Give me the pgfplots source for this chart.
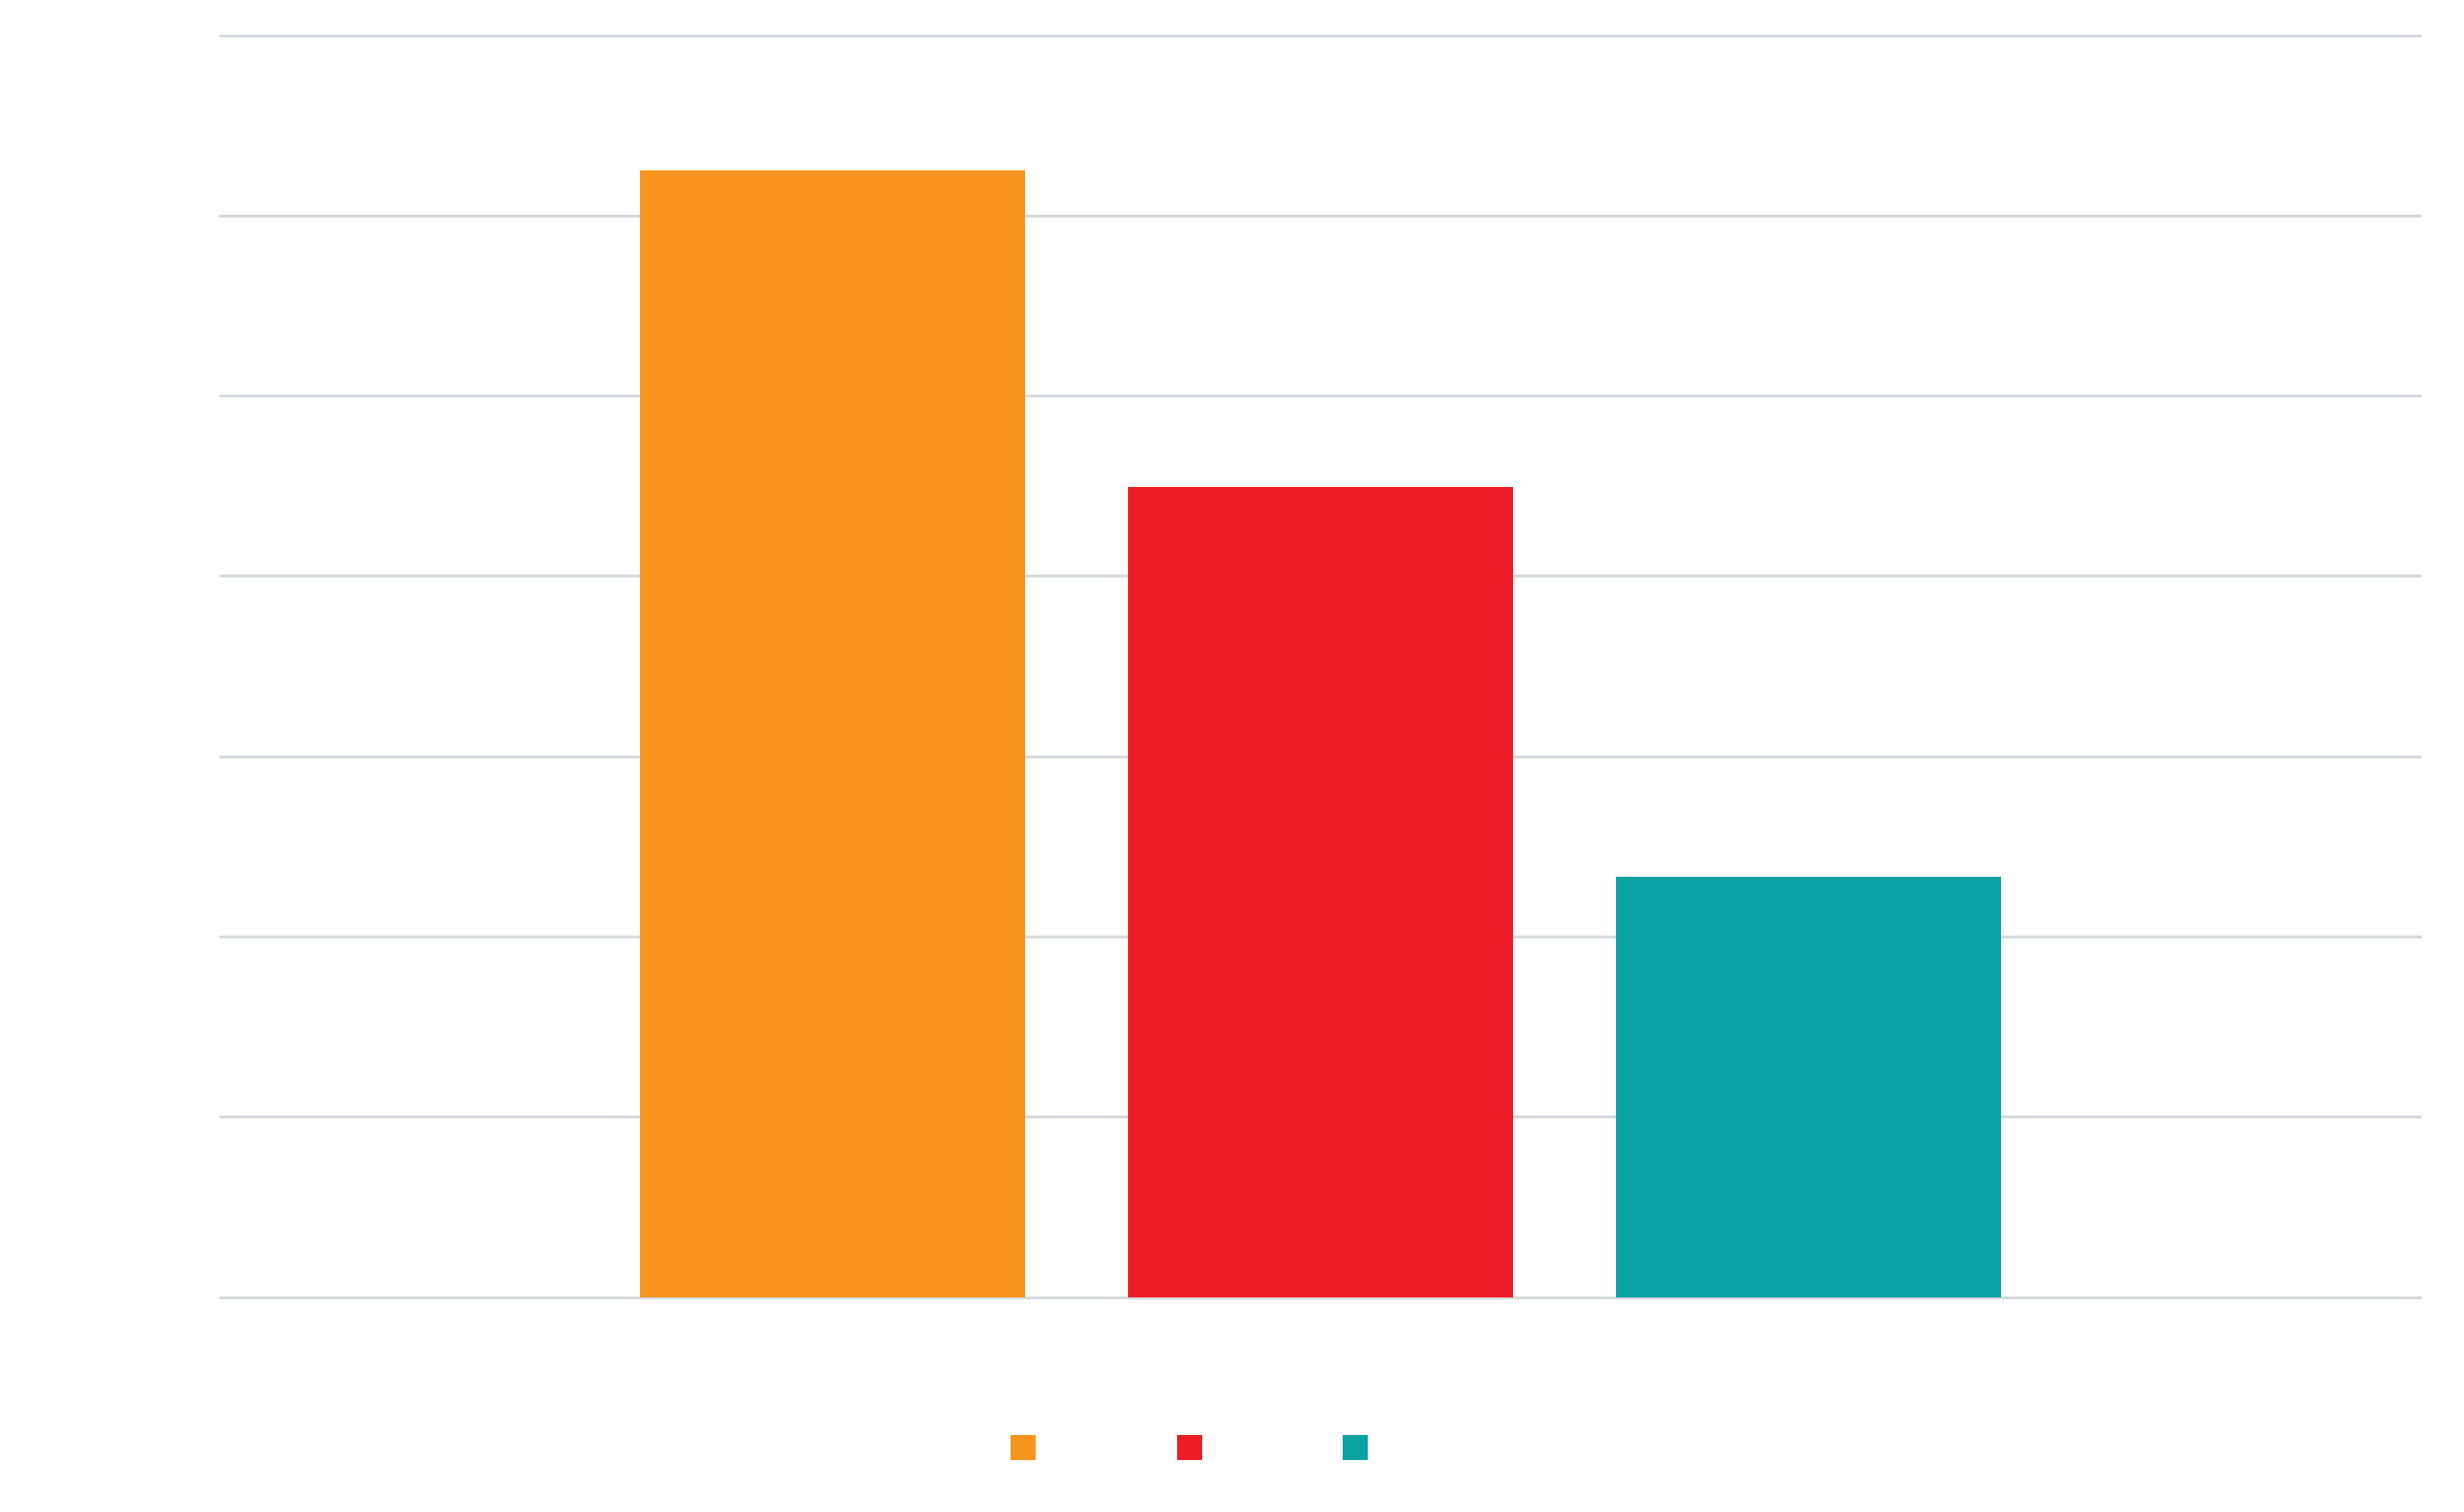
\documentclass[border=0pt]{standalone}
\usepackage{pgfplots}
\pgfplotsset{compat=1.18}
\usepackage{fontspec}
\setmainfont{Open Sans}
\definecolor{c23}{HTML}{F7941D}
\definecolor{c24}{HTML}{EE1D25}
\definecolor{c25}{HTML}{0AA2A3}
\definecolor{gridc}{HTML}{D5D9DC}
\definecolor{txt}{HTML}{FFFFFF}
\begin{document}
\begin{tikzpicture}
\path[use as bounding box] (0,0) rectangle (512pt,314pt);
\begin{axis}[
  at={(45.7pt,44.4pt)}, anchor=south west,
  scale only axis, width=457.5pt, height=262.2pt,
  ybar, bar shift=0pt, bar width=0.789,
  xmin=-2.2558, xmax=2.2558,
  ymin=800000, ymax=940000,
  ytick={800000,820000,...,940000},
  xtick={0}, xticklabels={Total},
  scaled y ticks=false,
  /pgf/number format/.cd, fixed, 1000 sep={,}, assume math mode=true,
  /pgfplots/.cd,
  axis line style={draw=none},
  major tick length=0pt,
  ymajorgrids, grid style={gridc, line width=0.6pt},
  tick label style={text=txt},
  yticklabel style={xshift=-6.2pt, font=\fontsize{8.2}{9}\selectfont},
  xticklabel style={yshift=-6pt, font=\fontsize{8.7}{10}\selectfont},
  legend style={at={(0.4646,-0.1193)}, anchor=center, draw=none, fill=none,
    legend columns=3, font=\fontsize{8}{9}\selectfont, text=txt,
    /tikz/every even column/.append style={column sep=7pt}},
  legend image code/.code={\fill[#1] (0pt,-2.6pt) rectangle (5.2pt,2.6pt);},
]
\addplot[fill=c23, draw=none] coordinates {(-1,925000)};
\addplot[fill=c24, draw=none] coordinates {(0,889900)};
\addplot[fill=c25, draw=none] coordinates {(1,846700)};
\legend{2023,2024,2025}
\end{axis}
\end{tikzpicture}
\end{document}
